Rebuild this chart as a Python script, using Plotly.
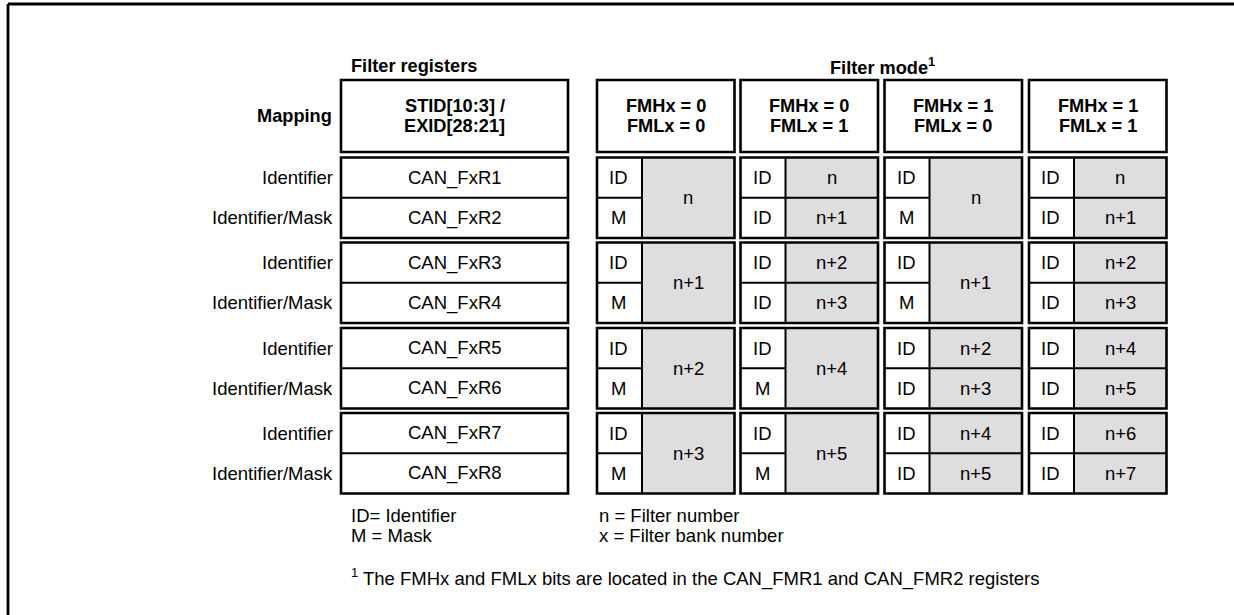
import plotly.graph_objects as go

# ---------------- data ----------------
register_names = ["CAN_FxR1", "CAN_FxR2", "CAN_FxR3", "CAN_FxR4",
                  "CAN_FxR5", "CAN_FxR6", "CAN_FxR7", "CAN_FxR8"]
row_labels = ["Identifier", "Identifier/Mask", "Identifier", "Identifier/Mask",
              "Identifier", "Identifier/Mask", "Identifier", "Identifier/Mask"]
mode_fmh = ["FMHx = 0", "FMHx = 0", "FMHx = 1", "FMHx = 1"]
mode_fml = ["FMLx = 0", "FMLx = 1", "FMLx = 0", "FMLx = 1"]
# left (ID / M) column, one entry per register row
mode_left = [
    ["ID", "M", "ID", "M", "ID", "M", "ID", "M"],
    ["ID", "ID", "ID", "ID", "ID", "M", "ID", "M"],
    ["ID", "M", "ID", "M", "ID", "ID", "ID", "ID"],
    ["ID", "ID", "ID", "ID", "ID", "ID", "ID", "ID"],
]
# right column, per group of two registers: one label (32-bit) or two (16-bit)
mode_right = [
    [["n"], ["n+1"], ["n+2"], ["n+3"]],
    [["n", "n+1"], ["n+2", "n+3"], ["n+4"], ["n+5"]],
    [["n"], ["n+1"], ["n+2", "n+3"], ["n+4", "n+5"]],
    [["n", "n+1"], ["n+2", "n+3"], ["n+4", "n+5"], ["n+6", "n+7"]],
]
legend_left = ["ID= Identifier", "M = Mask"]
legend_right = ["n = Filter number", "x = Filter bank number"]
footnote = "<sup>1</sup> The FMHx and FMLx bits are located in the CAN_FMR1 and CAN_FMR2 registers"

# ---------------- layout geometry ----------------
W, H = 1234, 615
FONT = "Liberation Sans, Arial, Helvetica, sans-serif"
FS = 18.5
FSB = 18.2
GREY = "#dedede"
LW_OUT = 2.6
LW_IN = 2.0

fr_x0, fr_x1 = 341, 568
mode_x0 = [597, 740.5, 884.5, 1029]
mode_w = 137.5
id_w = 45
hdr_y0, hdr_y1 = 80, 152
grp_y0 = [157.5, 242.5, 328, 413]
grp_h = 80.5
label_right = 335

shapes = []
ann = []


def rect(x0, y0, x1, y1, fill=None, lw=LW_OUT):
    shapes.append(dict(type="rect", xref="x", yref="y", x0=x0, y0=y0, x1=x1, y1=y1,
                       fillcolor=fill if fill else "rgba(0,0,0,0)",
                       line=dict(color="black", width=lw) if lw > 0 else dict(width=0)))


def line(x0, y0, x1, y1, lw=LW_IN):
    shapes.append(dict(type="line", xref="x", yref="y", x0=x0, y0=y0, x1=x1, y1=y1,
                       line=dict(color="black", width=lw)))


def text(x, y, s, anchor="center", bold=False, size=None):
    if size is None:
        size = FSB if bold else FS
    if bold:
        s = "<b>" + s + "</b>"
    ann.append(dict(x=x, y=y, xref="x", yref="y", text=s, showarrow=False,
                    xanchor=anchor, yanchor="middle",
                    font=dict(family=FONT, size=size, color="black")))


# outer frame: only the top and left edges fall inside the page
line(8, 4, W + 40, 4, lw=2.8)
line(8, 4, 8, H + 40, lw=2.8)

# titles
text(349, 66, "Filter registers", anchor="left", bold=True)
text(882, 66, "Filter mode<sup>1</sup>", bold=True)

# mapping header
text(label_right - 1, 116, "Mapping", anchor="right", bold=True)
rect(fr_x0, hdr_y0, fr_x1, hdr_y1)
text((fr_x0 + fr_x1) / 2, 106, "STID[10:3] /", bold=True)
text((fr_x0 + fr_x1) / 2, 126, "EXID[28:21]", bold=True)

for m in range(4):
    x0 = mode_x0[m]
    rect(x0, hdr_y0, x0 + mode_w, hdr_y1)
    text(x0 + mode_w / 2, 106, mode_fmh[m], bold=True)
    text(x0 + mode_w / 2, 126, mode_fml[m], bold=True)

# register rows
for g in range(4):
    y0 = grp_y0[g]
    y1 = y0 + grp_h
    ym = (y0 + y1) / 2
    rect(fr_x0, y0, fr_x1, y1)
    line(fr_x0, ym, fr_x1, ym)
    for k in range(2):
        r = 2 * g + k
        yc = y0 + grp_h / 4 + k * grp_h / 2
        text(label_right, yc, row_labels[r], anchor="right")
        text((fr_x0 + fr_x1) / 2, yc, register_names[r])

    for m in range(4):
        x0 = mode_x0[m]
        x1 = x0 + mode_w
        xd = x0 + id_w
        rect(x0, y0, x1, y1, fill=GREY, lw=0)
        rect(x0, y0, xd, y1, fill="white", lw=0)
        line(xd, y0, xd, y1)
        right = mode_right[m][g]
        if len(right) == 1:
            line(x0, ym, xd, ym)
            text((xd + x1) / 2, ym, right[0])
        else:
            line(x0, ym, x1, ym)
            for k in range(2):
                yc = y0 + grp_h / 4 + k * grp_h / 2
                text((xd + x1) / 2, yc, right[k])
        for k in range(2):
            yc = y0 + grp_h / 4 + k * grp_h / 2
            text(x0 + id_w / 2 - 1, yc, mode_left[m][2 * g + k])
        rect(x0, y0, x1, y1)

# legends
for i, s in enumerate(legend_left):
    text(349, 515 + 20 * i, s, anchor="left")
for i, s in enumerate(legend_right):
    text(597, 515 + 20 * i, s, anchor="left")
text(349, 577, footnote, anchor="left")

fig = go.Figure()
fig.update_layout(
    width=W, height=H,
    margin=dict(l=0, r=0, t=0, b=0),
    paper_bgcolor="white", plot_bgcolor="white",
    xaxis=dict(range=[0, W], visible=False, fixedrange=True),
    yaxis=dict(range=[H, 0], visible=False, fixedrange=True),
    shapes=shapes, annotations=ann, showlegend=False,
)
fig.write_html(
    "out.html",
    config={"displayModeBar": False},
    post_script=(
        "document.documentElement.style.overflow='hidden';"
        "document.body.style.overflow='hidden';"
        "document.body.style.margin='0';"
    ),
)
